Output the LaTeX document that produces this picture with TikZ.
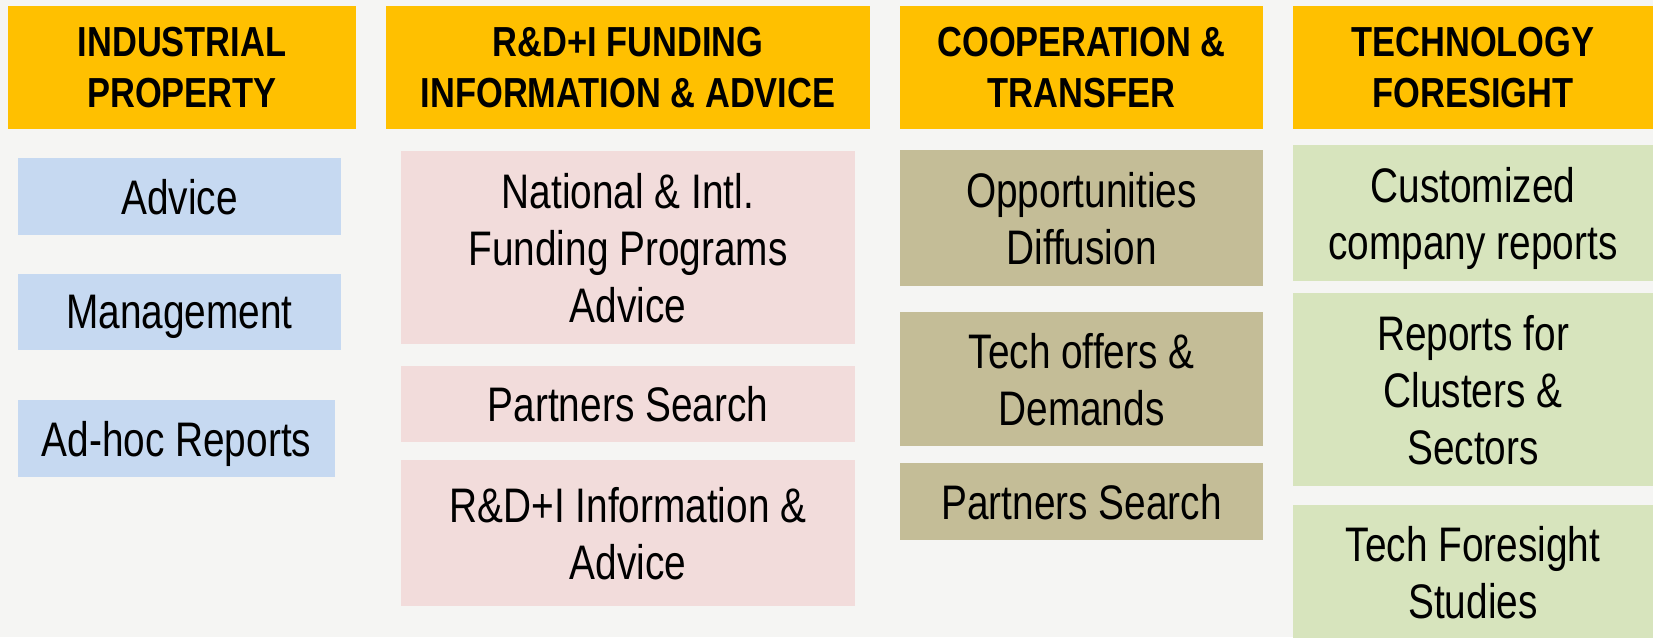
\documentclass[tikz,border=0pt]{standalone}
\usepackage{fontspec}
\setmainfont{Liberation Sans}
\newfontfamily\hdrfont{Liberation Sans}[FakeStretch=0.82]
\newfontfamily\bodyfont{Liberation Sans}[FakeStretch=0.8]
\definecolor{hdrc}{HTML}{FFC000}
\definecolor{bluec}{HTML}{C6D9F1}
\definecolor{pinkc}{HTML}{F2DCDB}
\definecolor{khakic}{HTML}{C4BD97}
\definecolor{greenc}{HTML}{D7E4BD}
\definecolor{bgc}{HTML}{F5F5F3}
\tikzset{
  cell/.style={inner sep=0pt, text depth=0pt, align=center, anchor=center, draw=none},
  hdr/.style={cell, fill=hdrc, font=\hdrfont\bfseries\fontsize{42}{51}\selectfont},
  itm/.style={cell, font=\bodyfont\fontsize{48.5}{57}\selectfont},
  bluebox/.style={itm, fill=bluec},
  pinkbox/.style={itm, fill=pinkc},
  khakibox/.style={itm, fill=khakic},
  greenbox/.style={itm, fill=greenc},
}
\begin{document}
\begin{tikzpicture}[x=1pt,y=-1pt]
\useasboundingbox (0,0) rectangle (1653,637);
\fill[bgc] (0,0) rectangle (1653,637);
% headers
\node[hdr, minimum width=348pt, minimum height=123pt] (h1) at (182,67.5) {INDUSTRIAL\\PROPERTY};
\node[hdr, minimum width=484pt, minimum height=123pt] (h2) at (628,67.5) {R\&D+I FUNDING\\INFORMATION \& ADVICE};
\node[hdr, minimum width=363pt, minimum height=123pt] (h3) at (1081.5,67.5) {COOPERATION \&\\TRANSFER};
\node[hdr, minimum width=360pt, minimum height=123pt] (h4) at (1473,67.5) {TECHNOLOGY\\FORESIGHT};
% industrial property
\node[bluebox, minimum width=323pt, minimum height=77pt] (b1) at (179.5,196.5) {Advice};
\node[bluebox, minimum width=323pt, minimum height=76pt] (b2) at (179.5,312) {Management};
\node[bluebox, minimum width=317pt, minimum height=77pt] (b3) at (176.5,438.5) {Ad-hoc Reports};
% funding
\node[pinkbox, minimum width=454pt, minimum height=193pt] (p1) at (628,247.5) {National \& Intl.\\Funding Programs\\Advice};
\node[pinkbox, minimum width=454pt, minimum height=76pt] (p2) at (628,404) {Partners Search};
\node[pinkbox, minimum width=454pt, minimum height=146pt] (p3) at (628,533) {R\&D+I Information \&\\Advice};
% cooperation
\node[khakibox, minimum width=363pt, minimum height=136pt] (k1) at (1081.5,218) {Opportunities\\Diffusion};
\node[khakibox, minimum width=363pt, minimum height=134pt] (k2) at (1081.5,379) {Tech offers \&\\Demands};
\node[khakibox, minimum width=363pt, minimum height=77pt] (k3) at (1081.5,501.5) {Partners Search};
% foresight
\node[greenbox, minimum width=360pt, minimum height=136pt] (g1) at (1473,213) {Customized\\company reports};
\node[greenbox, minimum width=360pt, minimum height=193pt] (g2) at (1473,389.5) {Reports for\\Clusters \&\\Sectors};
\node[greenbox, minimum width=360pt, minimum height=134pt] (g3) at (1473,572) {Tech Foresight\\Studies};
\end{tikzpicture}
\end{document}
